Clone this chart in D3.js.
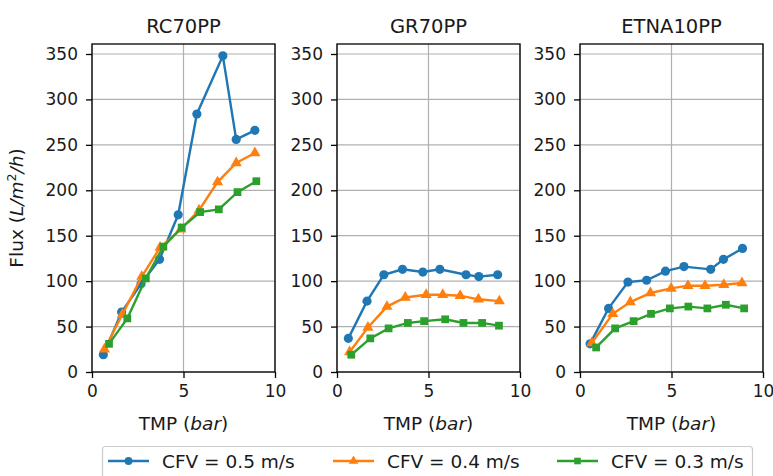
<!DOCTYPE html>
<html>
<head>
<meta charset="UTF-8">
<script src="https://cdnjs.cloudflare.com/ajax/libs/d3/7.8.5/d3.min.js"></script>
<style>
  body { margin: 0; background: #fff; }
  svg { font-family: "DejaVu Sans", sans-serif; }
</style>
</head>
<body>
<svg id="chart"></svg>
<script>
var width = 773, height = 476;

// --- data ---
var membranes = ["RC70PP", "GR70PP", "ETNA10PP"];
var seriesNames = ["CFV = 0.5 m/s", "CFV = 0.4 m/s", "CFV = 0.3 m/s"];
var colors = ["#1f77b4", "#ff7f0e", "#2ca02c"];
var shapes = ["circle", "triangle", "square"];

// RC70PP
var rcTmp05  = [0.62, 1.62, 2.68, 3.69, 4.71, 5.73, 7.15, 7.88, 8.9];
var rcFlux05 = [19, 66, 97, 124, 173, 284, 348, 256, 266];
var rcTmp04  = [0.68, 1.65, 2.72, 3.72, 4.85, 5.85, 6.86, 7.88, 8.9];
var rcFlux04 = [25, 63, 105, 137, 157, 178, 209, 230, 241];
var rcTmp03  = [0.93, 1.93, 2.94, 3.9, 4.9, 5.91, 6.93, 7.95, 8.98];
var rcFlux03 = [31, 59, 103, 138, 159, 176, 179, 198, 210];

// GR70PP
var grTmp05  = [0.62, 1.64, 2.56, 3.58, 4.69, 5.62, 7.05, 7.75, 8.78];
var grFlux05 = [37, 78, 107, 113, 110, 113, 107, 105, 107];
var grTmp04  = [0.69, 1.69, 2.73, 3.73, 4.87, 5.78, 6.73, 7.73, 8.87];
var grFlux04 = [22, 49, 72, 82, 85, 85, 84, 80, 78];
var grTmp03  = [0.78, 1.82, 2.82, 3.87, 4.76, 5.91, 6.91, 7.93, 8.85];
var grFlux03 = [19, 37, 48, 54, 56, 58, 54, 54, 51];

// ETNA10PP
var etTmp05  = [0.55, 1.56, 2.62, 3.64, 4.67, 5.68, 7.14, 7.84, 8.88];
var etFlux05 = [31, 70, 99, 101, 111, 116, 113, 124, 136];
var etTmp04  = [0.64, 1.79, 2.75, 3.85, 4.98, 5.9, 6.83, 7.86, 8.85];
var etFlux04 = [32, 64, 77, 87, 92, 95, 95, 96, 98];
var etTmp03  = [0.88, 1.92, 2.93, 3.88, 4.91, 5.92, 6.96, 7.97, 8.97];
var etFlux03 = [27, 48, 56, 64, 70, 72, 70, 74, 70];

var xTicks = [0, 5, 10];
var yTicks = [0, 50, 100, 150, 200, 250, 300, 350];

var panelData = [
  [[rcTmp05, rcFlux05], [rcTmp04, rcFlux04], [rcTmp03, rcFlux03]],
  [[grTmp05, grFlux05], [grTmp04, grFlux04], [grTmp03, grFlux03]],
  [[etTmp05, etFlux05], [etTmp04, etFlux04], [etTmp03, etFlux03]]
];

// --- layout ---
var panelLeft = [92, 337, 580];
var panelW = 183;
var plotTop = 44, plotBottom = 372;
var tickFont = "17px", labelFont = "18.5px";

var svg = d3.select("#chart").attr("width", width).attr("height", height);

var y = d3.scaleLinear().domain([0, 361]).range([plotBottom, plotTop]);

function markerPath(shape) {
  if (shape == "circle") return d3.symbol().type(d3.symbolCircle).size(66)();
  if (shape == "triangle") return d3.symbol().type(d3.symbolTriangle).size(54)();
  return d3.symbol().type(d3.symbolSquare).size(60)();
}

panelData.forEach(function(series, p) {
  var x = d3.scaleLinear().domain([0, 10]).range([panelLeft[p], panelLeft[p] + panelW]);
  var g = svg.append("g").attr("class", "panel");

  // grid
  g.selectAll(".gx").data(xTicks).enter().append("line")
    .attr("x1", d => x(d)).attr("x2", d => x(d))
    .attr("y1", plotTop).attr("y2", plotBottom)
    .attr("stroke", "#b0b0b0").attr("stroke-width", 1.2);
  g.selectAll(".gy").data(yTicks).enter().append("line")
    .attr("x1", x.range()[0]).attr("x2", x.range()[1])
    .attr("y1", d => y(d)).attr("y2", d => y(d))
    .attr("stroke", "#b0b0b0").attr("stroke-width", 1.2);

  // axes
  var xAxis = g.append("g").attr("transform", "translate(0," + plotBottom + ")")
    .call(d3.axisBottom(x).tickValues(xTicks).tickSize(6).tickPadding(7));
  var yAxis = g.append("g").attr("transform", "translate(" + panelLeft[p] + ",0)")
    .call(d3.axisLeft(y).tickValues(yTicks).tickSize(6).tickPadding(8));
  [xAxis, yAxis].forEach(function(a) {
    a.select(".domain").remove();
    a.selectAll("line").attr("stroke", "#000").attr("stroke-width", 1.3);
    a.selectAll("text").attr("font-size", tickFont).attr("fill", "#1a1a1a")
      .attr("font-family", "DejaVu Sans, sans-serif");
  });

  // frame
  g.append("rect").attr("x", panelLeft[p]).attr("y", plotTop)
    .attr("width", panelW).attr("height", plotBottom - plotTop)
    .attr("fill", "none").attr("stroke", "#000").attr("stroke-width", 1.3);

  // lines & markers (drawn 0.5, 0.4, 0.3 in order)
  series.forEach(function(s, i) {
    var pts = s[0].map((t, k) => [t, s[1][k]]);
    var line = d3.line().x(d => x(d[0])).y(d => y(d[1]));
    g.append("path").datum(pts).attr("d", line)
      .attr("fill", "none").attr("stroke", colors[i]).attr("stroke-width", 2.4);
    g.selectAll(".m" + i).data(pts).enter().append("path")
      .attr("d", markerPath(shapes[i]))
      .attr("transform", d => "translate(" + x(d[0]) + "," + y(d[1]) + ")")
      .attr("fill", colors[i]);
  });

  // title
  g.append("text").attr("x", panelLeft[p] + panelW / 2).attr("y", 33)
    .attr("text-anchor", "middle").attr("font-size", "19.5px").attr("fill", "#1a1a1a")
    .text(membranes[p]);

  // x label
  var xl = g.append("text").attr("x", panelLeft[p] + panelW / 2).attr("y", 430)
    .attr("text-anchor", "middle").attr("font-size", labelFont).attr("fill", "#1a1a1a");
  xl.append("tspan").text("TMP (");
  xl.append("tspan").attr("font-style", "italic").text("bar");
  xl.append("tspan").text(")");
});

// y label
var yl = svg.append("text").attr("transform", "translate(23,208) rotate(-90)")
  .attr("text-anchor", "middle").attr("font-size", labelFont).attr("fill", "#1a1a1a");
yl.append("tspan").text("Flux (");
yl.append("tspan").attr("font-style", "italic").text("L/m");
yl.append("tspan").attr("font-size", "12.5px").attr("dy", -7).text("2");
yl.append("tspan").attr("dy", 7).attr("font-style", "italic").text("/h");
yl.append("tspan").text(")");

// legend
var legendItemX = [108, 333, 557];
var lg = svg.append("g");
lg.append("rect").attr("x", 102.5).attr("y", 446.5).attr("width", 650).attr("height", 40)
  .attr("rx", 3).attr("fill", "#fff").attr("stroke", "#cccccc").attr("stroke-width", 1.2);
seriesNames.forEach(function(name, i) {
  var lx = legendItemX[i], ly = 461;
  lg.append("line").attr("x1", lx).attr("x2", lx + 41).attr("y1", ly).attr("y2", ly)
    .attr("stroke", colors[i]).attr("stroke-width", 2.4);
  lg.append("path").attr("d", markerPath(shapes[i]))
    .attr("transform", "translate(" + (lx + 20.5) + "," + ly + ") scale(0.85)").attr("fill", colors[i]);
  lg.append("text").attr("x", lx + 54).attr("y", ly + 7)
    .attr("font-size", labelFont).attr("fill", "#1a1a1a").text(name);
});
</script>
</body>
</html>
